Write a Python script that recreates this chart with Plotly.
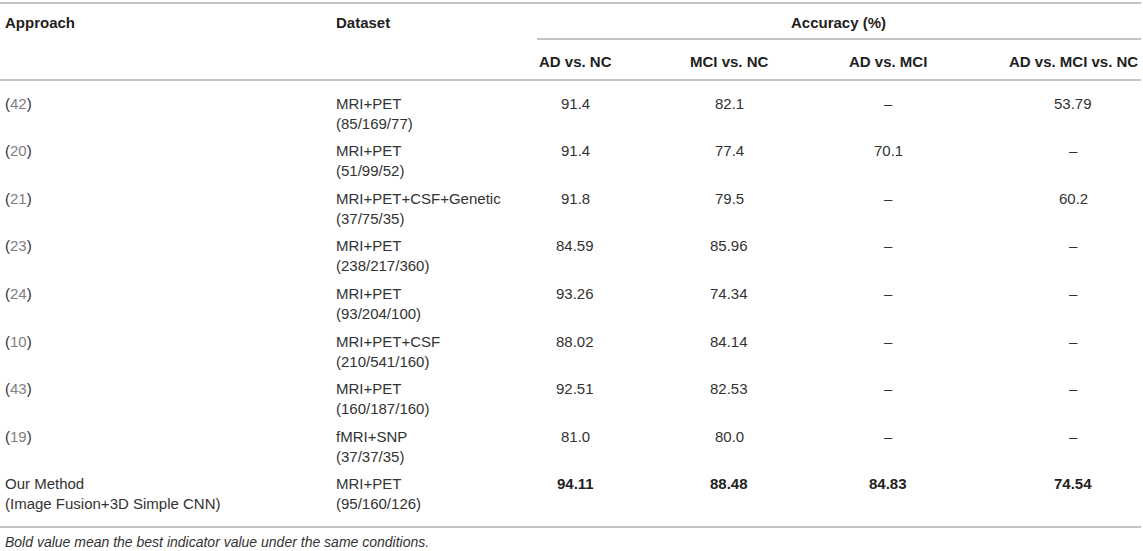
import plotly.graph_objects as go

# table content
columns = ["Approach", "Dataset"]
group_header = "Accuracy (%)"
sub_headers = ["AD vs. NC", "MCI vs. NC", "AD vs. MCI", "AD vs. MCI vs. NC"]

approach_refs = ["42", "20", "21", "23", "24", "10", "43", "19", None]
approach_text = ["", "", "", "", "", "", "", "", "Our Method<br>(Image Fusion+3D Simple CNN)"]
dataset_names = ["MRI+PET", "MRI+PET", "MRI+PET+CSF+Genetic", "MRI+PET", "MRI+PET",
                 "MRI+PET+CSF", "MRI+PET", "fMRI+SNP", "MRI+PET"]
dataset_counts = ["(85/169/77)", "(51/99/52)", "(37/75/35)", "(238/217/360)", "(93/204/100)",
                  "(210/541/160)", "(160/187/160)", "(37/37/35)", "(95/160/126)"]
ad_nc = ["91.4", "91.4", "91.8", "84.59", "93.26", "88.02", "92.51", "81.0", "94.11"]
mci_nc = ["82.1", "77.4", "79.5", "85.96", "74.34", "84.14", "82.53", "80.0", "88.48"]
ad_mci = ["–", "70.1", "–", "–", "–", "–", "–", "–", "84.83"]
ad_mci_nc = ["53.79", "–", "60.2", "–", "–", "–", "–", "–", "74.54"]
best_row = 8

footnote = "Bold value mean the best indicator value under the same conditions."

W, H = 1143, 551
FONT = "Liberation Sans, Arial, Helvetica, sans-serif"
TXT = "#333333"
HEAD = "#1f1f1f"
CITE = "#808080"
RULE = "#c4c4c4"

x_approach = 3
x_dataset = 334
x_values = [575, 729, 888, 1073]
row_y0 = 103
row_step = 47.6
line_gap = 20

fig = go.Figure()


def text(x, y, s, anchor="left", size=15, color=TXT):
    fig.add_annotation(x=x, y=y, text=s, showarrow=False, xanchor=anchor, yanchor="middle",
                       align="left", font=dict(family=FONT, size=size, color=color))


def rule(x0, x1, y):
    fig.add_shape(type="line", x0=x0, x1=x1, y0=y, y1=y, line=dict(color=RULE, width=2))


# rules
rule(0, 1141, 3)
rule(537, 1141, 39)
rule(0, 1141, 80)
rule(0, 1141, 527)

# headers
text(x_approach, 22, "<b>" + columns[0] + "</b>", color=HEAD)
text(x_dataset, 22, "<b>" + columns[1] + "</b>", color=HEAD)
text(838, 22, "<b>" + group_header + "</b>", anchor="center", color=HEAD)
for x, h in zip(x_values, sub_headers):
    text(x, 61, "<b>" + h + "</b>", anchor="center", color=HEAD)

# body
for i in range(len(dataset_names)):
    y = row_y0 + i * row_step
    if approach_refs[i]:
        text(x_approach, y, "(<span style='color:%s'>%s</span>)" % (CITE, approach_refs[i]))
    else:
        text(x_approach, y + line_gap / 2, approach_text[i])
    text(x_dataset, y + line_gap / 2, dataset_names[i] + "<br>" + dataset_counts[i])
    for x, col in zip(x_values, [ad_nc, mci_nc, ad_mci, ad_mci_nc]):
        v = col[i]
        if i == best_row:
            text(x, y, "<b>" + v + "</b>", anchor="center", color=HEAD)
        else:
            text(x, y, v, anchor="center")

text(x_approach, 542, "<i>" + footnote + "</i>", size=14)

fig.update_xaxes(range=[0, W], visible=False, fixedrange=True)
fig.update_yaxes(range=[H, 0], visible=False, fixedrange=True)
fig.update_layout(width=W, height=H, margin=dict(l=0, r=0, t=0, b=0),
                  paper_bgcolor="white", plot_bgcolor="white", showlegend=False)

# drop the default 8px page margin so axis units line up with window pixels
fig.write_html("out.html", config={"displayModeBar": False},
               post_script="document.body.style.margin='0';")
